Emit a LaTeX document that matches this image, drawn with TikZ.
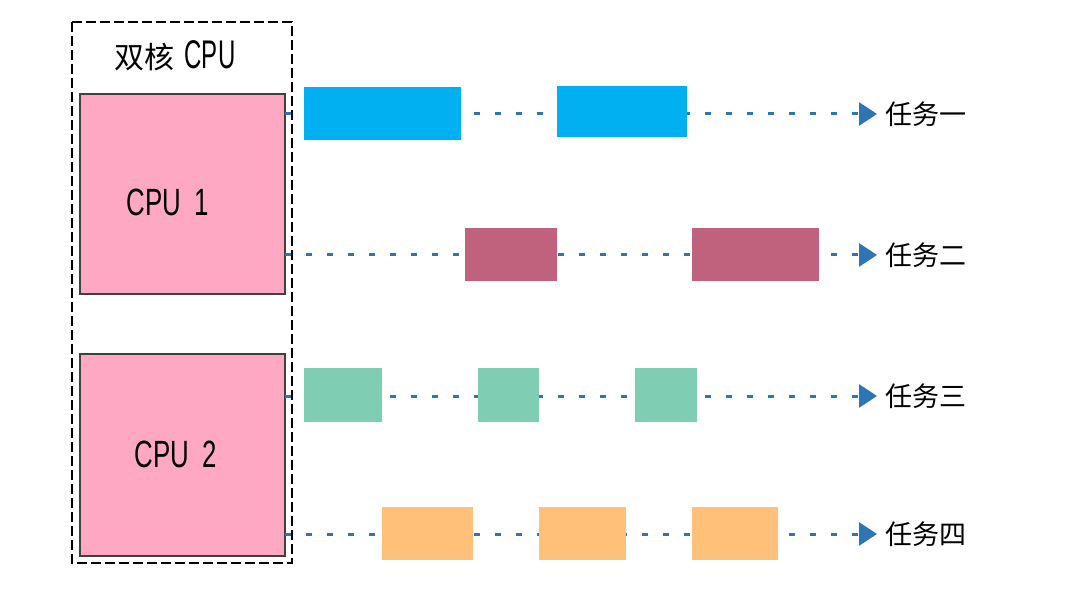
\documentclass[tikz,border=0pt]{standalone}
\usepackage{fontspec}
\newfontfamily\cjk{Noto Sans CJK SC}
\newfontfamily\cond[FakeStretch=0.68]{Liberation Sans}
\newfontfamily\condt[FakeStretch=0.6]{Liberation Sans}
\usetikzlibrary{arrows.meta}
\definecolor{cpupink}{RGB}{255,168,196}
\definecolor{cpuedge}{RGB}{64,64,64}
\definecolor{dotblue}{RGB}{46,117,182}
\definecolor{tblue}{RGB}{0,176,240}
\definecolor{tred}{RGB}{192,98,126}
\definecolor{tgreen}{RGB}{127,205,179}
\definecolor{torange}{RGB}{255,192,122}
\tikzset{
  cpubox/.style={draw=cpuedge, line width=1.8pt, fill=cpupink},
  taskline/.style={dotblue, line width=3pt, dash pattern=on 6pt off 15pt, shorten >=8pt,
    -{Triangle[length=18pt,width=23pt]}},
  tasklabel/.style={anchor=west, inner sep=0pt, font=\cjk\fontsize{27}{27}\selectfont},
}
\begin{document}
\begin{tikzpicture}[x=1pt,y=-1pt]
\useasboundingbox (0,0) rectangle (1076,593);
% outer dashed box
\draw[line width=1.5pt, dash pattern=on 10pt off 4pt] (72,22) rectangle (292,563);
\node (title) at (175,56) {\cjk\fontsize{30}{30}\selectfont 双核\hspace{10pt}\condt\fontsize{40}{40}\selectfont CPU};
% CPUs
\draw[cpubox] (80,94) rectangle (285,294);
\node (cpu1) [minimum width=205pt, minimum height=200pt, inner sep=0pt] at (182.5,194) {};
\node at (168,202) {\cond\fontsize{38}{38}\selectfont CPU\hspace{6pt} 1};
\draw[cpubox] (80,354) rectangle (285,556);
\node (cpu2) [minimum width=205pt, minimum height=202pt, inner sep=0pt] at (182.5,455) {};
\node at (176,454) {\cond\fontsize{38}{38}\selectfont CPU\hspace{6pt} 2};
% labels
\node[tasklabel] (t1) at (885,114) {任务一};
\node[tasklabel] (t2) at (885,255) {任务二};
\node[tasklabel] (t3) at (885,396) {任务三};
\node[tasklabel] (t4) at (885,534) {任务四};
% lines
\draw[taskline] (cpu1.east |- t1.west) -- (t1.west);
\draw[taskline] (cpu1.east |- t2.west) -- (t2.west);
\draw[taskline] (cpu2.east |- t3.west) -- (t3.west);
\draw[taskline] (cpu2.east |- t4.west) -- (t4.west);
% blocks
\fill[tblue] (304,87) rectangle (461,140);
\fill[tblue] (557,86) rectangle (687,137);
\fill[tred] (465,228) rectangle (557,281);
\fill[tred] (692,228) rectangle (819,281);
\fill[tgreen] (304,368) rectangle (382,422);
\fill[tgreen] (478,368) rectangle (539,422);
\fill[tgreen] (635,368) rectangle (697,422);
\fill[torange] (382,507) rectangle (473,560);
\fill[torange] (539,507) rectangle (626,560);
\fill[torange] (692,507) rectangle (778,560);
\end{tikzpicture}
\end{document}
